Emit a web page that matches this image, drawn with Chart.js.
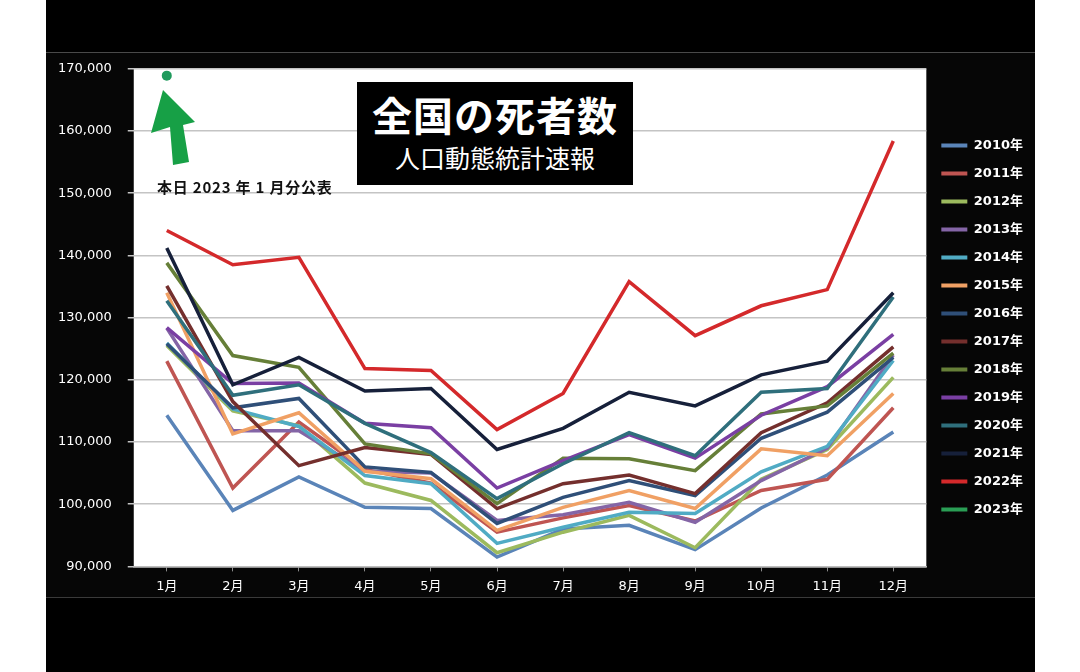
<!DOCTYPE html>
<html lang="ja">
<head>
<meta charset="utf-8">
<title>全国の死者数 人口動態統計速報</title>
<script src="https://cdn.jsdelivr.net/npm/chart.js@4.4.1/dist/chart.umd.min.js"></script>
<style>
  html, body { margin: 0; padding: 0; background: #fff; }
  body { width: 1080px; height: 672px; position: relative; overflow: hidden; font-family: 'DejaVu Sans', 'Noto Sans CJK JP', sans-serif; }
  #panel { position: absolute; left: 46px; top: 0; width: 989px; height: 672px; background: #000; }
  #band { position: absolute; left: 46px; top: 52px; width: 989px; height: 544px; background: #060606;
          border-top: 1px solid #4a4a4a; border-bottom: 1px solid #3a3a3a; }
  #wrap { position: absolute; left: 31px; top: 45px; width: 1004px; height: 559px; }
  #titleBox { position: absolute; left: 357px; top: 82px; width: 276px; height: 103px; background: #000;
              color: #fff; text-align: center; font-family: 'Noto Sans CJK JP', sans-serif; }
  #titleBox .main { position: absolute; left: 0; right: 0; top: 9px; font-size: 40px; font-weight: 700; line-height: 46px; letter-spacing: 1px; }
  #titleBox .sub { position: absolute; left: 0; right: 0; top: 60px; font-size: 25px; font-weight: 400; line-height: 30px; }
  #note { position: absolute; left: 157px; top: 176px; font-family: 'Noto Sans CJK JP', sans-serif; font-weight: 700;
          font-size: 15px; color: #111; white-space: pre; letter-spacing: 0.8px; }
  #arrow { position: absolute; left: 0; top: 0; }
</style>
</head>
<body>
<div id="panel"></div>
<div id="band"></div>
<div id="wrap"><canvas id="chart-line" width="1004" height="559"></canvas></div>
<svg id="arrow" width="1080" height="672">
  <polygon points="163,90 151,133 170,127 173,165 189,162 183,125 195,122" fill="#17a046"/>
</svg>
<div id="titleBox"><div class="main">全国の死者数</div><div class="sub">人口動態統計速報</div></div>
<div id="note">本日 2023 年 1 月分公表</div>

<script>
// month labels and y ticks
const months = ['1月', '2月', '3月', '4月', '5月', '6月', '7月', '8月', '9月', '10月', '11月', '12月'];
const yMin = 90000;
const yMax = 170000;
const yStep = 10000;

// monthly deaths
const deaths2010 = [114300, 99000, 104400, 99500, 99300, 91500, 96000, 96600, 92700, 99400, 104700, 111600];
const deaths2011 = [123000, 102600, 113200, 105600, 103400, 95500, 97800, 99800, 97300, 102200, 104000, 115500];
const deaths2012 = [125500, 115000, 112600, 103400, 100600, 92200, 95500, 98200, 93000, 104000, 108800, 120400];
const deaths2013 = [128300, 111800, 111800, 105300, 105000, 97400, 98300, 100300, 97100, 103800, 109000, 124000];
const deaths2014 = [125900, 115300, 112500, 104600, 103300, 93700, 96300, 98700, 98500, 105200, 109300, 123100];
const deaths2015 = [134000, 111300, 114700, 105300, 104100, 95800, 99500, 102200, 99300, 108900, 107800, 117800];
const deaths2016 = [125800, 115500, 117000, 106000, 105100, 96900, 101100, 103800, 101400, 110600, 114800, 123600];
const deaths2017 = [135100, 116500, 106200, 109100, 108000, 99300, 103300, 104700, 101700, 111500, 116300, 125300];
const deaths2018 = [138800, 123900, 122000, 109700, 108100, 100100, 107400, 107300, 105400, 114500, 115800, 124300];
const deaths2019 = [128400, 119400, 119500, 113000, 112300, 102600, 107000, 111200, 107400, 114300, 118900, 127300];
const deaths2020 = [132700, 117500, 119200, 113000, 108300, 100900, 106500, 111500, 107800, 118000, 118600, 133300];
const deaths2021 = [141200, 119200, 123600, 118200, 118600, 108800, 112200, 118000, 115800, 120800, 123000, 134000];
const deaths2022 = [144000, 138500, 139700, 121800, 121500, 112000, 117800, 135800, 127100, 131900, 134500, 158400];
const deaths2023 = [168900, null, null, null, null, null, null, null, null, null, null, null];

const seriesNames = ['2010年', '2011年', '2012年', '2013年', '2014年', '2015年', '2016年',
                     '2017年', '2018年', '2019年', '2020年', '2021年', '2022年', '2023年'];
const seriesData = [deaths2010, deaths2011, deaths2012, deaths2013, deaths2014, deaths2015, deaths2016,
                    deaths2017, deaths2018, deaths2019, deaths2020, deaths2021, deaths2022, deaths2023];

const lineColors = ['#5a84b8', '#bf5552', '#9cba5e', '#8465a6', '#50abc4', '#f0a064', '#2f4f78',
                    '#742f2d', '#667f38', '#7a3fa3', '#2f6f7c', '#16203a', '#d4292b', '#2a9e55'];

// white plot area on the dark canvas
const plotBackground = {
    id: 'plotBackground',
    beforeDraw(chart) {
        const { ctx, chartArea } = chart;
        ctx.save();
        ctx.fillStyle = '#ffffff';
        ctx.fillRect(chartArea.left, chartArea.top, chartArea.right - chartArea.left, chartArea.bottom - chartArea.top);
        ctx.restore();
    }
};

const datasets = seriesData.map((values, i) => ({
    label: seriesNames[i],
    data: values,
    borderColor: lineColors[i],
    backgroundColor: lineColors[i],
    borderWidth: 3.5,
    pointRadius: i === seriesData.length - 1 ? 5 : 0,
    pointBackgroundColor: i === seriesData.length - 1 ? '#1f9a5c' : lineColors[i],
    pointBorderWidth: 0,
    tension: 0,
    fill: false,
    order: seriesData.length - i
}));

const ctx = document.getElementById('chart-line').getContext('2d');
new Chart(ctx, {
    type: 'line',
    data: { labels: months, datasets: datasets },
    options: {
        responsive: false,
        animation: false,
        devicePixelRatio: 1,
        layout: { padding: { left: 11, right: 2, top: 9, bottom: 3 } },
        plugins: {
            legend: {
                display: true,
                position: 'right',
                labels: {
                    color: '#ffffff',
                    boxWidth: 26,
                    boxHeight: 4,
                    padding: 15,
                    font: { family: "'DejaVu Sans', 'Noto Sans CJK JP', sans-serif", size: 13, weight: 'bold' },
                    sort: (a, b) => a.datasetIndex - b.datasetIndex,
                    generateLabels: chart => Chart.defaults.plugins.legend.labels.generateLabels(chart)
                        .map(item => Object.assign(item, { lineWidth: 0 }))
                }
            },
            tooltip: { enabled: false }
        },
        scales: {
            x: {
                offset: true,
                grid: { display: true, drawOnChartArea: false, drawTicks: true, tickLength: 5, color: '#8a8a8a', lineWidth: 1 },
                border: { display: true, color: '#bdbdbd', width: 1.5 },
                ticks: {
                    color: '#ffffff',
                    padding: 7,
                    font: { family: "'DejaVu Sans', 'Noto Sans CJK JP', sans-serif", size: 13 }
                }
            },
            y: {
                min: yMin,
                max: yMax,
                grid: { color: '#c4c4c4', lineWidth: 1.5, tickLength: 6 },
                border: { display: false },
                ticks: {
                    stepSize: yStep,
                    color: '#ffffff',
                    padding: 16,
                    font: { family: "'DejaVu Sans', 'Noto Sans CJK JP', sans-serif", size: 13 },
                    callback: value => value.toLocaleString('en-US')
                }
            }
        }
    },
    plugins: [plotBackground]
});
</script>
</body>
</html>
